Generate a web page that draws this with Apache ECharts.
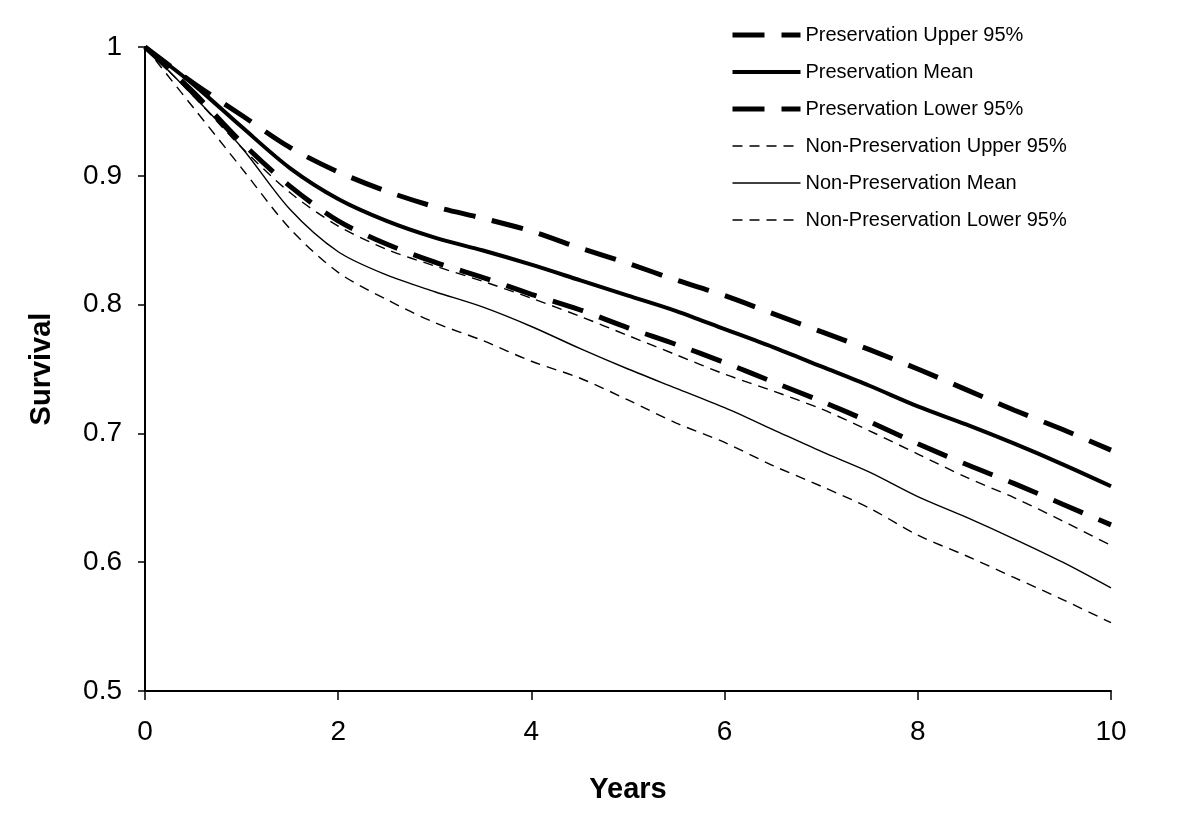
<!DOCTYPE html>
<html>
<head>
<meta charset="utf-8">
<script src="https://cdn.jsdelivr.net/npm/echarts@6/dist/echarts.min.js"></script>
<style>
html,body{margin:0;padding:0;background:#fff;}
#chart{width:1200px;height:837px;}
</style>
</head>
<body>
<div id="chart"></div>
<script>
const years = [0,0.5,1,1.5,2,2.5,3,3.5,4,4.5,5,5.5,6,6.5,7,7.5,8,8.5,9,9.5,10];
const presUpper = [1.0,0.972,0.947,0.922,0.903,0.888,0.876,0.867,0.857,0.844,0.832,0.819,0.807,0.793,0.779,0.765,0.750,0.734,0.718,0.703,0.687];
const presMean  = [1.0,0.971,0.938,0.906,0.882,0.865,0.852,0.842,0.831,0.819,0.807,0.795,0.781,0.767,0.752,0.737,0.721,0.707,0.692,0.676,0.659];
const presLower = [1.0,0.965,0.926,0.892,0.865,0.847,0.833,0.821,0.808,0.796,0.782,0.769,0.755,0.740,0.725,0.709,0.692,0.676,0.661,0.645,0.629];
const nonUpper  = [1.0,0.962,0.922,0.887,0.861,0.843,0.830,0.818,0.805,0.791,0.776,0.761,0.746,0.733,0.719,0.702,0.684,0.666,0.650,0.632,0.613];
const nonMean   = [1.0,0.962,0.922,0.874,0.841,0.823,0.810,0.798,0.783,0.766,0.750,0.735,0.720,0.703,0.686,0.670,0.651,0.635,0.618,0.600,0.580];
const nonLower  = [1.0,0.953,0.906,0.859,0.825,0.804,0.786,0.772,0.756,0.743,0.726,0.708,0.693,0.675,0.659,0.642,0.621,0.605,0.588,0.571,0.553];
const seriesNames = ['Preservation Upper 95%','Preservation Mean','Preservation Lower 95%','Non-Preservation Upper 95%','Non-Preservation Mean','Non-Preservation Lower 95%'];
const xTicks = {min:0,max:10,interval:2};
const yTicks = {min:0.5,max:1,interval:0.1};

const zip = arr => years.map((x,i)=>[x,arr[i]]);
const styles = [
  {width:5, type:[32,17]},
  {width:4, type:'solid'},
  {width:5, type:[32,17]},
  {width:1.4, type:[10,7]},
  {width:1.4, type:'solid'},
  {width:1.4, type:[10,7]}
];
const dataSets = [presUpper,presMean,presLower,nonUpper,nonMean,nonLower];
const font = 'Liberation Sans, Arial, sans-serif';

const chart = echarts.init(document.getElementById('chart'));
chart.setOption({
  animation:false,
  backgroundColor:'#fff',
  grid:{left:145,right:89,top:47,bottom:146,containLabel:false},
  legend:{
    orient:'vertical',left:725,top:20,itemGap:17,itemWidth:68,itemHeight:20,
    data:seriesNames,
    itemStyle:{color:'rgba(0,0,0,0)',borderWidth:0,opacity:0},
    lineStyle:{width:'inherit',type:'inherit',color:'inherit'},
    textStyle:{fontSize:20,color:'#000',fontFamily:font}
  },
  xAxis:{
    type:'value',min:xTicks.min,max:xTicks.max,interval:xTicks.interval,
    name:'Years',nameLocation:'middle',nameGap:84,
    nameTextStyle:{fontSize:29,fontWeight:'bold',color:'#000',fontFamily:font},
    axisLine:{lineStyle:{color:'#000',width:2}},
    axisTick:{show:true,length:9,lineStyle:{color:'#000',width:1.5}},
    axisLabel:{fontSize:28,color:'#000',margin:27,fontFamily:font},
    splitLine:{show:false}
  },
  yAxis:{
    type:'value',min:yTicks.min,max:yTicks.max,interval:yTicks.interval,
    name:'Survival',nameLocation:'middle',nameGap:89,
    nameTextStyle:{fontSize:29,fontWeight:'bold',color:'#000',fontFamily:font},
    axisLine:{show:true,lineStyle:{color:'#000',width:2}},
    axisTick:{show:true,length:7,lineStyle:{color:'#000',width:1.5}},
    axisLabel:{fontSize:28,color:'#000',margin:23,fontFamily:font},
    splitLine:{show:false}
  },
  series:seriesNames.map((n,i)=>({
    name:n,type:'line',data:zip(dataSets[i]),symbol:'none',smooth:0.3,
    lineStyle:{color:'#000',width:styles[i].width,type:styles[i].type},
    itemStyle:{color:'#000'}
  }))
});
</script>
</body>
</html>
